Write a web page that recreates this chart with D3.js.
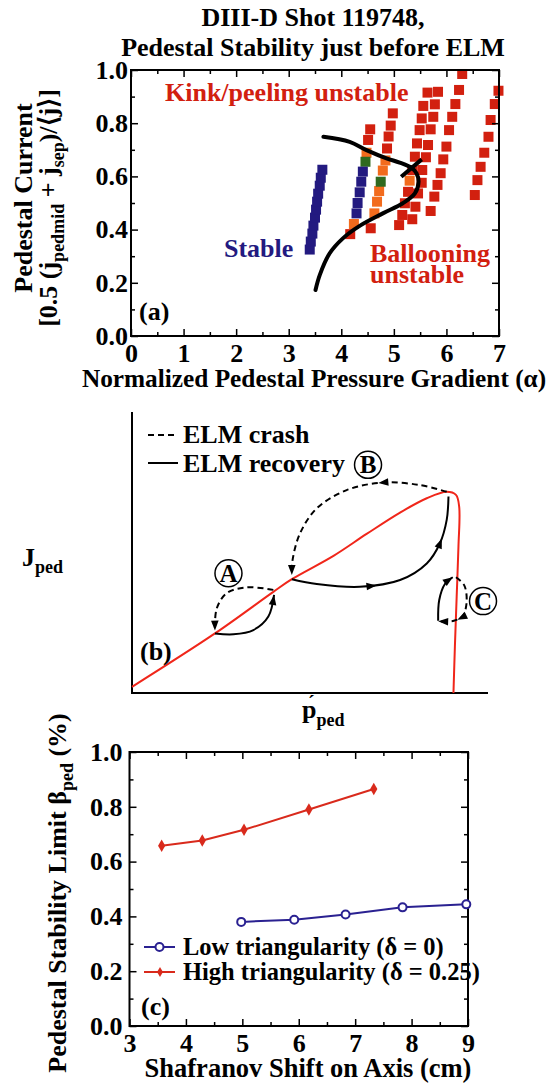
<!DOCTYPE html>
<html>
<head>
<meta charset="utf-8">
<script src="https://cdn.jsdelivr.net/npm/d3@7"></script>
<style>
body{margin:0;background:#fff;}
svg text{font-family:"Liberation Serif","Times New Roman",serif;font-weight:bold;}
</style>
</head>
<body>
<script>
// ---------- panel (a): pedestal current vs alpha ----------
var alphaTicks = [0,1,2,3,4,5,6,7];
var currentTicks = [0,0.2,0.4,0.6,0.8,1.0];

var blueA = [3.40,3.42,3.45,3.47,3.50,3.52,3.54,3.56,3.59,3.61,3.64, 4.29,4.31,4.35,4.38,4.41];
var blueJ = [0.325,0.355,0.385,0.415,0.445,0.475,0.505,0.535,0.565,0.595,0.625, 0.461,0.50,0.54,0.58,0.618];
var orangeA = [4.24,4.48,4.63,4.68,4.72,4.79,4.84,5.30];
var orangeJ = [0.421,0.689,0.461,0.505,0.545,0.622,0.66,0.584];
var greenA = [4.46,4.75];
var greenJ = [0.655,0.58];
var redA = [4.17,4.51,4.55, 4.56,4.87,4.90,4.94,4.98,
  5.10,5.16,5.21,5.27,5.35,5.40,5.44,5.49,5.53,5.56,5.64,
  5.35,5.41,5.46,5.53,5.54,5.61,5.65,5.70,5.75,5.78,5.84,
  5.70,5.77,5.83,5.89,5.94,6.00,6.05,6.11,6.17,6.24,6.30,
  6.54,6.59,6.65,6.72,6.80,6.84,6.92,6.99];
var redJ = [0.383,0.737,0.777, 0.405,0.705,0.75,0.791,0.837,
  0.417,0.455,0.499,0.542,0.624,0.674,0.724,0.774,0.818,0.865,0.915,
  0.439,0.486,0.536,0.576,0.624,0.672,0.718,0.777,0.824,0.871,0.918,
  0.47,0.524,0.568,0.612,0.664,0.712,0.774,0.824,0.872,0.925,0.985,
  0.53,0.586,0.636,0.689,0.749,0.812,0.872,0.922];
// stability boundary
var boundA = [3.66,4.16,4.48,4.86,5.11,5.33,5.43,5.47,5.40,5.17,4.79,4.35,4.03,3.78,3.59,3.51];
var boundJ = [0.749,0.73,0.699,0.668,0.652,0.633,0.612,0.58,0.536,0.499,0.461,0.414,0.367,0.311,0.229,0.173];
var crossA = [5.14,5.53];
var crossJ = [0.599,0.664];

// ---------- panel (b): schematic ELM cycle (normalized units) ----------
var pedP = [0,0.233,0.397,0.449,0.566,0.659,0.753,0.828,0.884,0.910,0.919,0.917,0.912,0.907,0.903];
var pedJ = [0.022,0.212,0.360,0.405,0.488,0.566,0.642,0.693,0.716,0.705,0.663,0.521,0.343,0.165,0.0];
var crashAp = [0.397,0.322,0.266,0.238,0.233], crashAj = [0.367,0.376,0.355,0.301,0.222];
var recovAp = [0.233,0.285,0.341,0.383,0.399], recovAj = [0.212,0.209,0.224,0.272,0.349];
var crashBp = [0.884,0.809,0.706,0.603,0.519,0.472,0.451,0.449], crashBj = [0.716,0.740,0.749,0.722,0.657,0.568,0.473,0.420];
var recovBp = [0.449,0.519,0.640,0.753,0.828,0.865,0.884,0.889], recovBj = [0.405,0.388,0.378,0.402,0.461,0.533,0.616,0.699];
var crashCp = [0.910,0.933,0.940,0.929,0.904,0.860], crashCj = [0.412,0.384,0.325,0.274,0.257,0.255];
var recovCp = [0.860,0.863,0.879,0.901], recovCj = [0.257,0.331,0.388,0.412];
var circleLabels = ["A","B","C"];
var circleP = [0.271,0.663,0.986];
var circleJ = [0.426,0.812,0.327];

// ---------- panel (c): beta_ped limit vs Shafranov shift ----------
var shiftTicks = [3,4,5,6,7,8,9];
var betaTicks = [0,0.2,0.4,0.6,0.8,1.0];
var shiftLow = [4.98,5.92,6.83,7.84,8.97];
var betaLow = [0.380,0.388,0.407,0.433,0.444];
var shiftHigh = [3.57,4.29,5.03,6.18,7.33];
var betaHigh = [0.658,0.677,0.716,0.790,0.865];

var RED = "#d2200f", ORANGE = "#f26b1d", GREEN = "#2f6a1f", NAVY = "#231a80";

var svg = d3.select("body").append("svg")
  .attr("width",550).attr("height",1084);
svg.append("rect").attr("width",550).attr("height",1084).attr("fill","#fff");

// axes with inward ticks on all four sides
function frame(x, y, xMaj, xMin, yMaj, yMin, xFmt, yFmt, xPad, yPad){
  var xr = x.range(), yr = y.range();
  var g = svg.append("g");
  function ax(axis, tr, vals, len, fmt, pad){
    var a = g.append("g").attr("transform", tr)
      .call(axis.tickValues(vals).tickSize(-len).tickSizeOuter(0).tickPadding(pad||0).tickFormat(fmt || ""));
    a.select(".domain").remove();
    a.selectAll("line").attr("stroke-width",1.5);
    a.selectAll("text").attr("font-size",26).attr("fill","#000");
  }
  ax(d3.axisBottom(x), "translate(0,"+yr[0]+")", xMaj, 7, xFmt, xPad);
  ax(d3.axisBottom(x), "translate(0,"+yr[0]+")", xMin, 4);
  ax(d3.axisTop(x), "translate(0,"+yr[1]+")", xMaj, 7);
  ax(d3.axisTop(x), "translate(0,"+yr[1]+")", xMin, 4);
  ax(d3.axisLeft(y), "translate("+xr[0]+",0)", yMaj, 7, yFmt, yPad);
  ax(d3.axisLeft(y), "translate("+xr[0]+",0)", yMin, 4);
  ax(d3.axisRight(y), "translate("+xr[1]+",0)", yMaj, 7);
  ax(d3.axisRight(y), "translate("+xr[1]+",0)", yMin, 4);
  g.append("rect").attr("x",xr[0]).attr("y",yr[1])
    .attr("width",xr[1]-xr[0]).attr("height",yr[0]-yr[1])
    .attr("fill","none").attr("stroke","#000").attr("stroke-width",2);
}
function halfSteps(ticks, step){
  return ticks.slice(0,-1).map(function(t){ return t + step; });
}

// ===== panel (a) =====
var xa = d3.scaleLinear().domain([0,7]).range([131,499]);
var ya = d3.scaleLinear().domain([0,1]).range([336,70]);

svg.append("text").attr("x",313).attr("y",26).attr("text-anchor","middle").attr("font-size",26).text("DIII-D Shot 119748,");
svg.append("text").attr("x",313).attr("y",56).attr("text-anchor","middle").attr("font-size",26).text("Pedestal Stability just before ELM");

function squares(xs, ys, color){
  svg.append("g").selectAll("rect").data(xs).join("rect")
    .attr("x", function(d){ return xa(d)-5; })
    .attr("y", function(d,i){ return ya(ys[i])-5; })
    .attr("width",10).attr("height",10)
    .attr("fill",color);
}
squares(redA, redJ, RED);
squares(orangeA, orangeJ, ORANGE);
squares(greenA, greenJ, GREEN);
squares(blueA, blueJ, NAVY);

svg.append("path").datum(boundA)
  .attr("d", d3.line().x(function(d){ return xa(d); }).y(function(d,i){ return ya(boundJ[i]); }).curve(d3.curveCatmullRom))
  .attr("fill","none").attr("stroke","#000").attr("stroke-width",4).attr("stroke-linecap","round");
svg.append("path").datum(crossA)
  .attr("d", d3.line().x(function(d){ return xa(d); }).y(function(d,i){ return ya(crossJ[i]); }))
  .attr("fill","none").attr("stroke","#000").attr("stroke-width",4);

frame(xa, ya, alphaTicks, halfSteps(alphaTicks,0.5), currentTicks, halfSteps(currentTicks,0.1),
  d3.format("d"), d3.format(".1f"), 8, 3);

svg.append("text").attr("x",165).attr("y",101).attr("font-size",26).attr("fill",RED).text("Kink/peeling unstable");
svg.append("text").attr("x",224).attr("y",257).attr("font-size",26).attr("fill",NAVY).text("Stable");
svg.append("text").attr("x",370).attr("y",262).attr("font-size",26).attr("fill",RED).text("Ballooning");
svg.append("text").attr("x",370).attr("y",283).attr("font-size",26).attr("fill",RED).text("unstable");
svg.append("text").attr("x",139).attr("y",320).attr("font-size",26).text("(a)");

svg.append("text").attr("x",314).attr("y",387).attr("text-anchor","middle").attr("font-size",25.3)
  .text("Normalized Pedestal Pressure Gradient (α)");
svg.append("text").attr("transform","translate(32,198) rotate(-90)").attr("text-anchor","middle").attr("font-size",26)
  .text("Pedestal Current");
var l2 = svg.append("text").attr("transform","translate(57,208) rotate(-90)").attr("text-anchor","middle").attr("font-size",26);
l2.append("tspan").text("[0.5 (j");
l2.append("tspan").attr("font-size",18).attr("dy",7).text("pedmid");
l2.append("tspan").attr("dy",-7).text(" + j");
l2.append("tspan").attr("font-size",18).attr("dy",7).text("sep");
l2.append("tspan").attr("dy",-7).text(")/⟨j⟩]");

// ===== panel (b) =====
var xb = d3.scaleLinear().domain([0,1]).range([132,488]);
var yb = d3.scaleLinear().domain([0,1]).range([693,412]);

svg.append("path").attr("d","M"+xb(0)+","+yb(1)+"V"+yb(0)+"H"+xb(1))
  .attr("fill","none").attr("stroke","#000").attr("stroke-width",2);

svg.append("path").datum(pedP)
  .attr("d", d3.line().x(function(d){ return xb(d); }).y(function(d,i){ return yb(pedJ[i]); }).curve(d3.curveCatmullRom))
  .attr("fill","none").attr("stroke","#f0261a").attr("stroke-width",2);

function cyclePath(ps, js, dashed, arrows){
  var p = svg.append("path").datum(ps)
    .attr("d", d3.line().x(function(d){ return xb(d); }).y(function(d,i){ return yb(js[i]); }).curve(d3.curveCatmullRom))
    .attr("fill","none").attr("stroke","#000").attr("stroke-width",2)
    .attr("stroke-dasharray", dashed ? "6,4" : null);
  var node = p.node(), L = node.getTotalLength();
  arrows.forEach(function(f){
    var a = node.getPointAtLength(L*f), b = node.getPointAtLength(Math.max(0,L*f-3));
    var ang = Math.atan2(a.y-b.y, a.x-b.x)*180/Math.PI;
    svg.append("path").attr("d","M0,0L-10,-3.8L-10,3.8Z").attr("fill","#000")
      .attr("transform","translate("+a.x+","+a.y+") rotate("+ang+")");
  });
}
cyclePath(crashAp, crashAj, true, [1]);
cyclePath(recovAp, recovAj, false, [1]);
cyclePath(crashBp, crashBj, true, [0.33,1]);
cyclePath(recovBp, recovBj, false, [0.4,0.8]);
cyclePath(crashCp, crashCj, true, [0.72,1]);
cyclePath(recovCp, recovCj, false, [1]);

circleLabels.forEach(function(c,i){
  svg.append("circle").attr("cx",xb(circleP[i])).attr("cy",yb(circleJ[i])).attr("r",13.5)
    .attr("fill","#fff").attr("stroke","#000").attr("stroke-width",1.5);
  svg.append("text").attr("x",xb(circleP[i])).attr("y",yb(circleJ[i])+8.5).attr("text-anchor","middle")
    .attr("font-size",25).text(c);
});

// legend
svg.append("line").attr("x1",148).attr("x2",178).attr("y1",435).attr("y2",435)
  .attr("stroke","#000").attr("stroke-width",2).attr("stroke-dasharray","6,4");
svg.append("text").attr("x",183).attr("y",443).attr("font-size",26).text("ELM crash");
svg.append("line").attr("x1",148).attr("x2",178).attr("y1",463).attr("y2",463)
  .attr("stroke","#000").attr("stroke-width",2);
svg.append("text").attr("x",183).attr("y",472).attr("font-size",26).text("ELM recovery");
svg.append("text").attr("x",140).attr("y",660).attr("font-size",26).text("(b)");

var jl = svg.append("text").attr("x",22).attr("y",566).attr("font-size",26);
jl.append("tspan").text("J");
jl.append("tspan").attr("font-size",18).attr("dy",7).text("ped");
var pl = svg.append("text").attr("x",302).attr("y",718).attr("font-size",26);
pl.append("tspan").text("p");
pl.append("tspan").attr("font-size",18).attr("dy",8).text("ped");
svg.append("text").attr("x",308).attr("y",710).attr("font-size",20).text("´");

// ===== panel (c) =====
var xc = d3.scaleLinear().domain([3,9]).range([129.5,468]);
var yc = d3.scaleLinear().domain([0,1]).range([1026,752]);

frame(xc, yc, shiftTicks, halfSteps(shiftTicks,0.5), betaTicks, halfSteps(betaTicks,0.1),
  d3.format("d"), d3.format(".1f"), 8, 7);

var BLUE = "#2a2191", CRED = "#d92a1c";
svg.append("path").datum(shiftHigh)
  .attr("d", d3.line().x(function(d){ return xc(d); }).y(function(d,i){ return yc(betaHigh[i]); }))
  .attr("fill","none").attr("stroke",CRED).attr("stroke-width",2);
svg.append("g").selectAll("path").data(shiftHigh).join("path")
  .attr("d", d3.symbol(d3.symbolDiamond).size(45))
  .attr("transform", function(d,i){ return "translate("+xc(d)+","+yc(betaHigh[i])+")"; })
  .attr("fill",CRED);
svg.append("path").datum(shiftLow)
  .attr("d", d3.line().x(function(d){ return xc(d); }).y(function(d,i){ return yc(betaLow[i]); }))
  .attr("fill","none").attr("stroke",BLUE).attr("stroke-width",2);
svg.append("g").selectAll("circle").data(shiftLow).join("circle")
  .attr("cx", function(d){ return xc(d); }).attr("cy", function(d,i){ return yc(betaLow[i]); })
  .attr("r",4).attr("fill","#fff").attr("stroke",BLUE).attr("stroke-width",2);

// legend
svg.append("line").attr("x1",144).attr("x2",175).attr("y1",947).attr("y2",947).attr("stroke",BLUE).attr("stroke-width",2);
svg.append("circle").attr("cx",159.5).attr("cy",947).attr("r",4).attr("fill","#fff").attr("stroke",BLUE).attr("stroke-width",2);
svg.append("text").attr("x",183).attr("y",955).attr("font-size",24.5).text("Low triangularity (δ = 0)");
svg.append("line").attr("x1",144).attr("x2",175).attr("y1",972).attr("y2",972).attr("stroke",CRED).attr("stroke-width",2);
svg.append("path").attr("d", d3.symbol(d3.symbolDiamond).size(30)).attr("transform","translate(160,972)").attr("fill",CRED);
svg.append("text").attr("x",183).attr("y",980).attr("font-size",24.5).text("High triangularity (δ = 0.25)");
svg.append("text").attr("x",141).attr("y",1015).attr("font-size",26).text("(c)");

svg.append("text").attr("x",308).attr("y",1077).attr("text-anchor","middle").attr("font-size",26.5)
  .text("Shafranov Shift on Axis (cm)");
var cl = svg.append("text").attr("transform","translate(66,893) rotate(-90)").attr("text-anchor","middle").attr("font-size",26);
cl.append("tspan").text("Pedestal Stability Limit β");
cl.append("tspan").attr("font-size",18).attr("dy",7).text("ped");
cl.append("tspan").attr("dy",-7).text(" (%)");
</script>
</body>
</html>
